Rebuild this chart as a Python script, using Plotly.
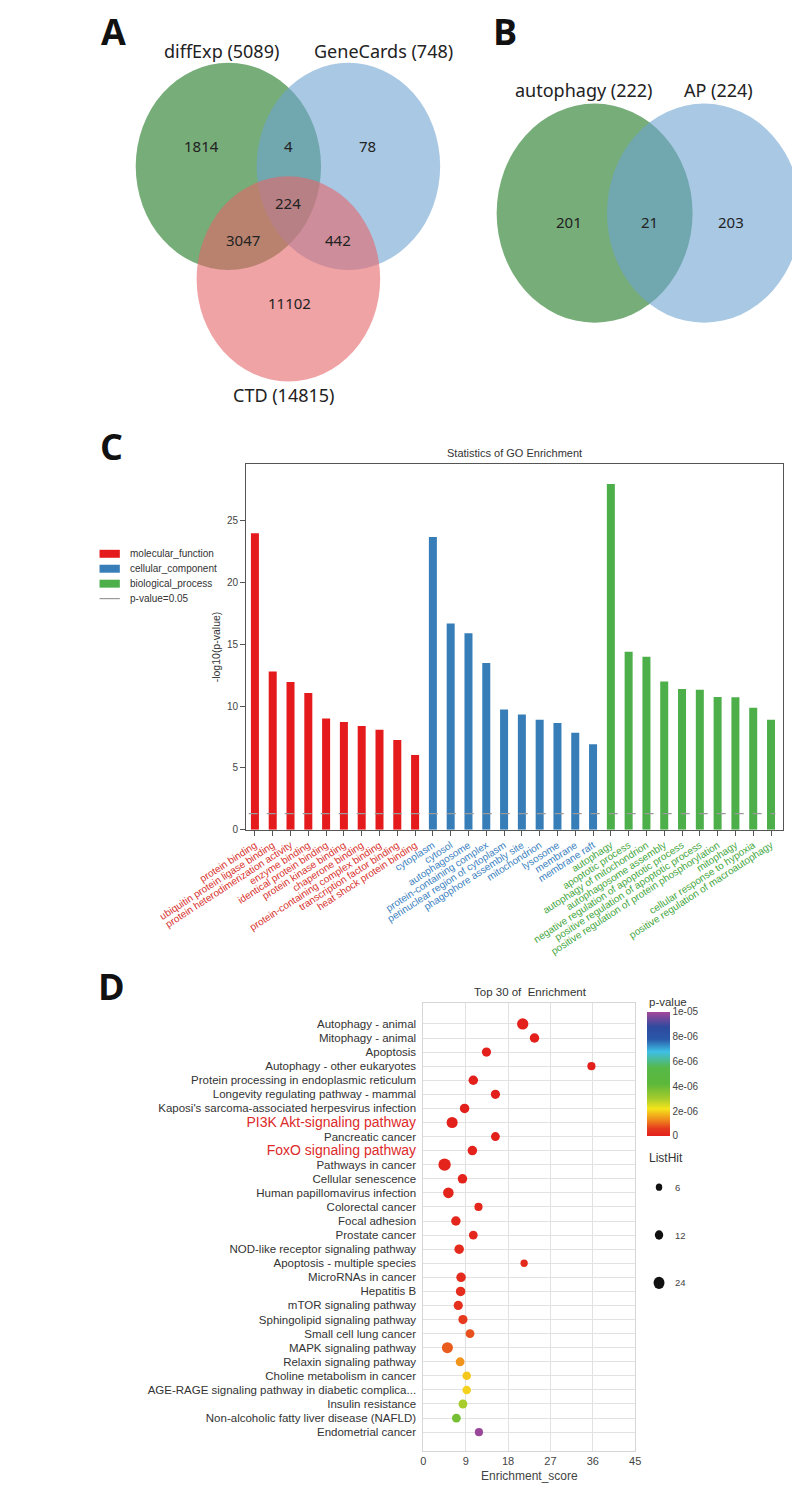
import math
import plotly.graph_objects as go

W, H = 800, 1485
def px(x): return x / W
def py(y): return 1 - y / H

# ---------------- DATA ----------------
# Panel A (3-set Venn)
venn_a_sets = ["diffExp", "GeneCards", "CTD"]
venn_a_totals = [5089, 748, 14815]
venn_a_regions = ["diffExp", "diffExp&GeneCards", "GeneCards", "all", "diffExp&CTD", "GeneCards&CTD", "CTD"]
venn_a_counts = [1814, 4, 78, 224, 3047, 442, 11102]

# Panel B (2-set Venn)
venn_b_sets = ["autophagy", "AP"]
venn_b_totals = [222, 224]
venn_b_regions = ["autophagy", "both", "AP"]
venn_b_counts = [201, 21, 203]

# Panel C (GO enrichment)
mf_terms = ["protein binding", "ubiquitin protein ligase binding", "protein heterodimerization activity",
            "enzyme binding", "identical protein binding", "protein kinase binding", "chaperone binding",
            "protein-containing complex binding", "transcription factor binding", "heat shock protein binding"]
mf_values = [24.0, 12.8, 11.95, 11.07, 9.0, 8.71, 8.39, 8.09, 7.26, 6.05]
cc_terms = ["cytoplasm", "cytosol", "autophagosome", "protein-containing complex",
            "perinuclear region of cytoplasm", "phagophore assembly site", "mitochondrion",
            "lysosome", "membrane", "membrane raft"]
cc_values = [23.7, 16.7, 15.9, 13.5, 9.73, 9.33, 8.9, 8.63, 7.85, 6.91]
bp_terms = ["autophagy", "apoptotic process", "autophagy of mitochondrion", "autophagosome assembly",
            "negative regulation of apoptotic process", "positive regulation of apoptotic process",
            "positive regulation of protein phosphorylation", "mitophagy",
            "cellular response to hypoxia", "positive regulation of macroautophagy"]
bp_values = [28.0, 14.4, 14.0, 12.0, 11.4, 11.33, 10.75, 10.73, 9.88, 8.91]
go_yticks = [0, 5, 10, 15, 20, 25]
p_threshold = 0.05

# Panel D (KEGG top 30)
kegg_terms = ["Autophagy - animal", "Mitophagy - animal", "Apoptosis", "Autophagy - other eukaryotes",
              "Protein processing in endoplasmic reticulum", "Longevity regulating pathway - mammal",
              "Kaposi's sarcoma-associated herpesvirus infection", "PI3K Akt-signaling pathway",
              "Pancreatic cancer", "FoxO signaling pathway", "Pathways in cancer", "Cellular senescence",
              "Human papillomavirus infection", "Colorectal cancer", "Focal adhesion", "Prostate cancer",
              "NOD-like receptor signaling pathway", "Apoptosis - multiple species", "MicroRNAs in cancer",
              "Hepatitis B", "mTOR signaling pathway", "Sphingolipid signaling pathway",
              "Small cell lung cancer", "MAPK signaling pathway", "Relaxin signaling pathway",
              "Choline metabolism in cancer", "AGE-RAGE signaling pathway in diabetic complica...",
              "Insulin resistance", "Non-alcoholic fatty liver disease (NAFLD)", "Endometrial cancer"]
kegg_enrich = [21.1, 23.6, 13.4, 35.7, 10.6, 15.3, 8.75, 6.1, 15.3, 10.4, 4.5, 8.3, 5.3, 11.7, 6.9,
               10.6, 7.6, 21.4, 8.0, 7.9, 7.4, 8.4, 9.9, 5.1, 7.8, 9.2, 9.2, 8.4, 7.0, 11.8]
kegg_listhit = [19, 12, 11, 8, 12, 11, 12, 18, 10, 12, 24, 12, 16, 8, 12, 10, 12, 6, 12, 12,
                11, 11, 10, 18, 10, 9, 9, 10, 10, 8]
kegg_pvalue = [1e-12, 1e-10, 1e-9, 1e-9, 5e-9, 1e-8, 2e-8, 3e-8, 4e-8, 5e-8, 6e-8, 8e-8, 1e-7,
               1.2e-7, 1.5e-7, 1.8e-7, 2e-7, 2.2e-7, 2.5e-7, 3e-7, 3.5e-7, 6e-7, 8e-7, 9e-7,
               1.4e-6, 1.9e-6, 2e-6, 3.0e-6, 3.8e-6, 9.9e-6]
kegg_highlight = ["PI3K Akt-signaling pathway", "FoxO signaling pathway"]
enrich_ticks = [0, 9, 18, 27, 36, 45]
pval_ticks = [0, 2e-6, 4e-6, 6e-6, 8e-6, 1e-5]
pval_ticktext = ["0", "2e-06", "4e-06", "6e-06", "8e-06", "1e-05"]
listhit_legend = [6, 12, 24]

# ---------------- STYLE ----------------
SANS = "Liberation Sans, Arial, sans-serif"
VENN_FONT = "Noto Sans, Open Sans, sans-serif"
RED, BLUE, GREEN = "#E41A1C", "#377EB8", "#4DAF4A"
RED_T, BLUE_T, GREEN_T = "#d8302c", "#3a7fc0", "#3fa63c"
V_GREEN, V_BLUE, V_RED = "rgb(27,118,30)", "rgb(110,163,210)", "rgb(230,102,105)"
VOP = 0.6

fig = go.Figure()
shapes, annos = [], []

def circle(cx, cy, rx, ry, color):
    shapes.append(dict(type="circle", xref="paper", yref="paper",
                       x0=px(cx - rx), x1=px(cx + rx), y0=py(cy + ry), y1=py(cy - ry),
                       fillcolor=color, opacity=VOP, line=dict(width=0), layer="below"))

def text(x, y, s, size, color="#222", family=SANS, xanchor="center", yanchor="middle", angle=0):
    annos.append(dict(x=px(x), y=py(y), xref="paper", yref="paper", text=s, showarrow=False,
                      xanchor=xanchor, yanchor=yanchor, textangle=angle,
                      font=dict(size=size, color=color, family=family)))

# ---------------- Panel A ----------------
circle(150, 159, 105, 104, V_GREEN)
circle(286, 159, 104, 104, V_BLUE)
circle(218, 272, 104, 103, V_RED)
a_label_pos = [(142, 43), (326, 43), (213, 389)]
for (x, y), n, t in zip(a_label_pos, venn_a_sets, venn_a_totals):
    text(x, y, f"{n} ({t})", 18, family=VENN_FONT)
a_count_pos = [(120, 139), (218, 139), (308, 139), (217, 196), (167, 233), (274, 233), (219, 296)]
for (x, y), c in zip(a_count_pos, venn_a_counts):
    text(x, y, str(c), 15, family=VENN_FONT)

# ---------------- Panel B ----------------
circle(565, 206, 111, 110, V_GREEN)
circle(689, 206, 110, 110, V_BLUE)
b_label_pos = [(553, 82), (705, 82)]
for (x, y), n, t in zip(b_label_pos, venn_b_sets, venn_b_totals):
    text(x, y, f"{n} ({t})", 18, family=VENN_FONT)
b_count_pos = [(536, 215), (627, 215), (719, 215)]
for (x, y), c in zip(b_count_pos, venn_b_counts):
    text(x, y, str(c), 15, family=VENN_FONT)

# Panel letters
for L, (x, y) in zip("ABCD", [(20, 24), (464, 24), (18, 440), (18, 982)]):
    text(x, y, f"<b>{L}</b>", 36, color="#111", family="Open Sans, Noto Sans, sans-serif")

# ---------------- Panel C ----------------
groups = [(mf_terms, mf_values, RED, RED_T, "molecular_function"),
          (cc_terms, cc_values, BLUE, BLUE_T, "cellular_component"),
          (bp_terms, bp_values, GREEN, GREEN_T, "biological_process")]
all_pos, all_ticktext = [], []
offset = 0
for terms, vals, col, tcol, name in groups:
    xs = list(range(offset, offset + len(terms)))
    fig.add_trace(go.Bar(x=xs, y=vals, marker=dict(color=col, line=dict(width=0)), width=0.45,
                         name=name, showlegend=False, xaxis="x", yaxis="y"))
    all_pos += xs
    all_ticktext += [f'<span style="color:{tcol}">{t}</span>' for t in terms]
    offset += len(terms)

thr = -math.log10(p_threshold)
shapes.append(dict(type="line", xref="x domain", yref="y", x0=0.005, x1=0.985, y0=thr, y1=thr,
                   line=dict(color="#9a9a9a", width=1.2, dash="dash")))

text(474, 447, "Statistics of GO Enrichment", 11, color="#333")
text(137, 641, "-log10(p-value)", 10.5, color="#333", angle=-90)

# manual legend C
leg_items = [("molecular_function", RED, 548), ("cellular_component", BLUE, 563),
             ("biological_process", GREEN, 578)]
for name, col, y in leg_items:
    shapes.append(dict(type="rect", xref="paper", yref="paper", x0=px(4), x1=px(27),
                       y0=py(y + 4), y1=py(y - 4), fillcolor=col, line=dict(width=0)))
    text(36, y, name, 10, color="#333", xanchor="left")
shapes.append(dict(type="line", xref="paper", yref="paper", x0=px(4), x1=px(27), y0=py(593), y1=py(593),
                   line=dict(color="#9a9a9a", width=1.2)))
text(36, 593, f"p-value={p_threshold}", 10, color="#333", xanchor="left")

# ---------------- Panel D ----------------
cscale = [[0, "#e3201c"], [0.06, "#e53a1e"], [0.13, "#f08a1c"], [0.22, "#f5e51c"], [0.3, "#a8cc2c"],
          [0.42, "#5cb83a"], [0.55, "#56b848"], [0.68, "#3ec0e6"], [0.78, "#2a58a8"],
          [0.88, "#2e4a9e"], [1, "#a4489a"]]
def diam(v): return 7.3 * (v / 6) ** 0.38

ypos = list(range(len(kegg_terms)))
fig.add_trace(go.Scatter(
    x=kegg_enrich, y=ypos, mode="markers", xaxis="x2", yaxis="y2", showlegend=False,
    marker=dict(size=[diam(v) for v in kegg_listhit], color=kegg_pvalue, colorscale=cscale,
                cmin=0, cmax=1e-5, opacity=1, line=dict(width=0),
                colorbar=dict(x=px(624), xanchor="left", y=py(1008), yanchor="top",
                              len=125 / H, lenmode="fraction", thickness=23, outlinewidth=0,
                              xpad=0, ypad=0,
                              tickvals=pval_ticks, ticktext=pval_ticktext, ticks="", ticklen=4,
                              tickfont=dict(size=10, color="#444", family=SANS)))))
text(624, 998, "p-value", 11.5, color="#333", xanchor="left")

d_ticktext = []
for t in kegg_terms:
    if t in kegg_highlight:
        d_ticktext.append(f'<span style="color:#dd2a2a;font-size:14px">{t}</span>')
    else:
        d_ticktext.append(t)

text(492, 988, "Top 30 of  Enrichment", 11.5, color="#333")
text(491, 1474, "Enrichment_score", 12, color="#444")

text(624, 1155, "ListHit", 12, color="#333", xanchor="left")
for v, y in zip(listhit_legend, [1184, 1232, 1280]):
    d = diam(v)
    shapes.append(dict(type="circle", xref="paper", yref="paper", x0=px(638 - d / 2), x1=px(638 + d / 2),
                       y0=py(y + d / 2), y1=py(y - d / 2), fillcolor="#111", line=dict(width=0)))
    text(654, y, str(v), 9.5, color="#444", xanchor="left")

fig.update_layout(
    width=W, height=H, margin=dict(l=0, r=0, t=0, b=0),
    paper_bgcolor="white", plot_bgcolor="white", showlegend=False,
    font=dict(family=SANS, color="#333"),
    shapes=shapes, annotations=annos,
    xaxis=dict(domain=[px(170), px(779)], anchor="y", range=[-0.5, 29.7],
               tickvals=all_pos, ticktext=all_ticktext, tickangle=-33,
               tickfont=dict(size=10, family=SANS), ticks="outside", ticklen=5, tickcolor="#555",
               showline=True, mirror=True, linecolor="#555", linewidth=1, showgrid=False, zeroline=False),
    yaxis=dict(domain=[py(825), py(458)], anchor="x", range=[0, 29.6], tickvals=go_yticks,
               ticks="outside", ticklen=5, tickcolor="#555", tickfont=dict(size=10, color="#444"),
               showline=True, mirror=True, linecolor="#555", linewidth=1, showgrid=False, zeroline=False),
    xaxis2=dict(domain=[px(371), px(611)], anchor="y2", range=[0, 45], tickvals=enrich_ticks,
                showgrid=True, gridcolor="#e2e2e2", showline=True, mirror=True, linecolor="#d6d6d6",
                ticks="", tickfont=dict(size=11, color="#444"), zeroline=False),
    yaxis2=dict(domain=[py(1449), py(999)], anchor="x2", range=[30.35, -1.49], tickvals=ypos,
                ticktext=d_ticktext, showgrid=True, gridcolor="#e2e2e2", showline=True, mirror=True,
                linecolor="#d6d6d6", ticks="", ticklabelstandoff=4,
                tickfont=dict(size=11.5, color="#333", family=SANS), zeroline=False),
)

fig.write_html("out.html")
